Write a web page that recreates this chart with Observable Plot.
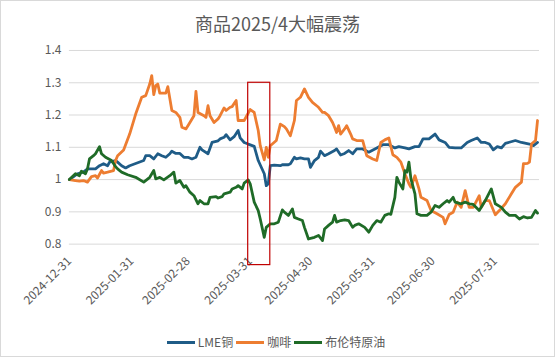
<!DOCTYPE html>
<html><head><meta charset="utf-8">
<script src="https://cdn.jsdelivr.net/npm/d3@7"></script>
<script src="https://cdn.jsdelivr.net/npm/@observablehq/plot@0.6"></script>
<style>
html,body{margin:0;padding:0;background:#fff;}
#chart{position:relative;width:555px;height:357px;box-sizing:border-box;border:1px solid #d9d9d9;background:#fff;overflow:hidden;font-family:"Noto Sans CJK SC","Noto Sans",sans-serif;color:#595959;}
#title{position:absolute;left:0;top:12px;width:553px;text-align:center;font-size:18px;line-height:20px;}
#plot{position:absolute;left:-1px;top:39px;}
#legend{position:absolute;left:0;top:333px;width:553px;display:flex;justify-content:center;align-items:center;font-size:12px;line-height:16px;}
.item{display:flex;align-items:center;margin-right:3px;}
.sw{width:28px;height:3px;margin-right:3px;}
</style></head>
<body>
<div id="chart">
  <div id="title">商品2025/4大幅震荡</div>
  <div id="plot"></div>
  <div id="legend"></div>
</div>
<script>
const seriesNames = ["LME铜", "咖啡", "布伦特原油"];
const seriesColors = ["#1f5c87", "#ed7d31", "#1f6b27"];
const xTickLabels = ["2024-12-31","2025-01-31","2025-02-28","2025-03-31","2025-04-30","2025-05-31","2025-06-30","2025-07-31"];
const yTickValues = [0.8, 0.9, 1, 1.1, 1.2, 1.3, 1.4];
const highlightDates = ["2025-03-30", "2025-04-10"];
const highlightValues = [0.735, 1.3];

const copper = [
["2024-12-31",1.000],["2025-01-04",1.018],["2025-01-07",1.023],["2025-01-09",1.033],["2025-01-13",1.033],["2025-01-15",1.043],["2025-01-17",1.049],["2025-01-19",1.043],["2025-01-20",1.054],["2025-01-23",1.059],["2025-01-24",1.054],["2025-01-26",1.043],["2025-01-28",1.036],["2025-01-30",1.043],["2025-02-06",1.059],["2025-02-07",1.074],["2025-02-09",1.074],["2025-02-11",1.064],["2025-02-13",1.080],["2025-02-15",1.074],["2025-02-17",1.069],["2025-02-19",1.080],["2025-02-20",1.088],["2025-02-22",1.081],["2025-02-24",1.081],["2025-02-26",1.069],["2025-02-28",1.069],["2025-03-02",1.064],["2025-03-04",1.069],["2025-03-06",1.100],["2025-03-07",1.092],["2025-03-10",1.080],["2025-03-12",1.115],["2025-03-15",1.120],["2025-03-16",1.126],["2025-03-18",1.131],["2025-03-19",1.139],["2025-03-21",1.123],["2025-03-23",1.133],["2025-03-25",1.152],["2025-03-26",1.129],["2025-03-28",1.115],["2025-03-30",1.110],["2025-04-02",1.103],["2025-04-04",1.059],["2025-04-07",1.018],["2025-04-08",0.981],["2025-04-09",0.987],["2025-04-10",1.043],["2025-04-12",1.045],["2025-04-15",1.043],["2025-04-16",1.046],["2025-04-19",1.046],["2025-04-20",1.049],["2025-04-22",1.069],["2025-04-23",1.064],["2025-04-25",1.067],["2025-04-27",1.064],["2025-04-29",1.064],["2025-04-30",1.038],["2025-05-02",1.059],["2025-05-04",1.069],["2025-05-05",1.088],["2025-05-07",1.074],["2025-05-09",1.080],["2025-05-12",1.090],["2025-05-13",1.095],["2025-05-15",1.076],["2025-05-17",1.081],["2025-05-19",1.090],["2025-05-21",1.080],["2025-05-23",1.095],["2025-05-26",1.095],["2025-05-29",1.085],["2025-06-02",1.098],["2025-06-05",1.108],["2025-06-08",1.108],["2025-06-11",1.098],["2025-06-13",1.102],["2025-06-16",1.098],["2025-06-18",1.095],["2025-06-21",1.102],["2025-06-23",1.102],["2025-06-25",1.126],["2025-06-28",1.126],["2025-07-01",1.141],["2025-07-03",1.123],["2025-07-06",1.115],["2025-07-08",1.100],["2025-07-11",1.098],["2025-07-14",1.098],["2025-07-17",1.115],["2025-07-19",1.121],["2025-07-22",1.129],["2025-07-24",1.115],["2025-07-26",1.115],["2025-07-28",1.110],["2025-07-30",1.092],["2025-08-01",1.102],["2025-08-03",1.098],["2025-08-05",1.112],["2025-08-10",1.121],["2025-08-13",1.115],["2025-08-17",1.110],["2025-08-19",1.105],["2025-08-21",1.115]
];

const coffee = [
["2024-12-31",1.000],["2025-01-03",0.997],["2025-01-05",0.995],["2025-01-07",0.997],["2025-01-09",0.992],["2025-01-11",1.009],["2025-01-13",1.012],["2025-01-14",1.005],["2025-01-16",1.028],["2025-01-17",1.020],["2025-01-19",1.023],["2025-01-22",1.028],["2025-01-23",1.059],["2025-01-24",1.074],["2025-01-27",1.092],["2025-01-30",1.141],["2025-02-02",1.203],["2025-02-05",1.255],["2025-02-07",1.260],["2025-02-09",1.296],["2025-02-10",1.322],["2025-02-11",1.263],["2025-02-12",1.291],["2025-02-13",1.296],["2025-02-14",1.268],["2025-02-17",1.268],["2025-02-18",1.288],["2025-02-20",1.214],["2025-02-22",1.208],["2025-02-24",1.193],["2025-02-25",1.162],["2025-02-27",1.157],["2025-03-01",1.177],["2025-03-03",1.198],["2025-03-04",1.273],["2025-03-05",1.208],["2025-03-08",1.198],["2025-03-09",1.193],["2025-03-10",1.229],["2025-03-11",1.198],["2025-03-13",1.177],["2025-03-15",1.188],["2025-03-16",1.198],["2025-03-18",1.222],["2025-03-19",1.214],["2025-03-21",1.224],["2025-03-22",1.226],["2025-03-24",1.245],["2025-03-25",1.183],["2025-03-28",1.183],["2025-03-31",1.217],["2025-04-02",1.208],["2025-04-04",1.152],["2025-04-05",1.105],["2025-04-07",1.061],["2025-04-08",1.100],["2025-04-09",1.069],["2025-04-10",1.105],["2025-04-13",1.121],["2025-04-15",1.172],["2025-04-17",1.164],["2025-04-18",1.157],["2025-04-20",1.136],["2025-04-22",1.183],["2025-04-23",1.245],["2025-04-25",1.255],["2025-04-27",1.281],["2025-04-29",1.255],["2025-05-01",1.239],["2025-05-04",1.224],["2025-05-06",1.208],["2025-05-07",1.208],["2025-05-09",1.198],["2025-05-11",1.177],["2025-05-12",1.162],["2025-05-13",1.146],["2025-05-14",1.167],["2025-05-15",1.141],["2025-05-17",1.157],["2025-05-18",1.167],["2025-05-20",1.141],["2025-05-21",1.126],["2025-05-23",1.121],["2025-05-26",1.121],["2025-05-28",1.074],["2025-05-31",1.064],["2025-06-02",1.059],["2025-06-04",1.115],["2025-06-06",1.123],["2025-06-08",1.129],["2025-06-10",1.077],["2025-06-12",1.069],["2025-06-14",1.054],["2025-06-16",1.018],["2025-06-18",0.987],["2025-06-19",0.976],["2025-06-21",1.012],["2025-06-23",0.971],["2025-06-24",0.945],["2025-06-27",0.935],["2025-06-29",0.904],["2025-07-02",0.894],["2025-07-05",0.883],["2025-07-06",0.863],["2025-07-08",0.892],["2025-07-10",0.899],["2025-07-12",0.930],["2025-07-14",0.914],["2025-07-16",0.966],["2025-07-18",0.914],["2025-07-20",0.914],["2025-07-23",0.950],["2025-07-24",0.914],["2025-07-26",0.935],["2025-07-28",0.935],["2025-07-31",0.891],["2025-08-02",0.904],["2025-08-05",0.925],["2025-08-08",0.956],["2025-08-10",0.976],["2025-08-13",0.992],["2025-08-14",1.049],["2025-08-16",1.050],["2025-08-17",1.054],["2025-08-18",1.110],["2025-08-20",1.121],["2025-08-21",1.183]
];

const brent = [
["2024-12-31",1.000],["2025-01-03",1.018],["2025-01-05",1.012],["2025-01-06",1.026],["2025-01-08",1.018],["2025-01-09",1.033],["2025-01-10",1.064],["2025-01-12",1.074],["2025-01-13",1.080],["2025-01-15",1.102],["2025-01-16",1.080],["2025-01-18",1.069],["2025-01-21",1.059],["2025-01-23",1.040],["2025-01-24",1.033],["2025-01-26",1.023],["2025-01-29",1.015],["2025-02-02",1.007],["2025-02-06",0.992],["2025-02-09",1.007],["2025-02-11",1.028],["2025-02-12",1.002],["2025-02-14",1.007],["2025-02-16",0.999],["2025-02-19",1.012],["2025-02-21",1.023],["2025-02-22",0.989],["2025-02-24",0.997],["2025-02-26",0.976],["2025-02-27",0.981],["2025-03-01",0.961],["2025-03-03",0.950],["2025-03-05",0.925],["2025-03-06",0.935],["2025-03-08",0.925],["2025-03-10",0.925],["2025-03-11",0.945],["2025-03-14",0.947],["2025-03-15",0.943],["2025-03-17",0.947],["2025-03-18",0.956],["2025-03-21",0.961],["2025-03-22",0.971],["2025-03-24",0.976],["2025-03-25",0.981],["2025-03-27",0.971],["2025-03-28",0.989],["2025-03-30",0.999],["2025-03-31",0.987],["2025-04-02",0.930],["2025-04-04",0.904],["2025-04-05",0.878],["2025-04-07",0.821],["2025-04-08",0.852],["2025-04-10",0.863],["2025-04-12",0.863],["2025-04-14",0.868],["2025-04-16",0.906],["2025-04-17",0.899],["2025-04-19",0.889],["2025-04-21",0.909],["2025-04-22",0.883],["2025-04-24",0.878],["2025-04-26",0.873],["2025-04-27",0.852],["2025-04-29",0.816],["2025-05-02",0.821],["2025-05-04",0.827],["2025-05-06",0.811],["2025-05-07",0.847],["2025-05-09",0.858],["2025-05-11",0.868],["2025-05-12",0.889],["2025-05-13",0.868],["2025-05-15",0.873],["2025-05-17",0.875],["2025-05-19",0.873],["2025-05-21",0.852],["2025-05-22",0.858],["2025-05-24",0.863],["2025-05-27",0.852],["2025-05-29",0.837],["2025-05-31",0.858],["2025-06-02",0.873],["2025-06-04",0.868],["2025-06-06",0.889],["2025-06-08",0.894],["2025-06-09",0.892],["2025-06-11",0.945],["2025-06-12",1.007],["2025-06-13",0.992],["2025-06-15",0.971],["2025-06-16",1.028],["2025-06-17",1.023],["2025-06-18",1.054],["2025-06-19",1.002],["2025-06-21",0.956],["2025-06-22",0.894],["2025-06-24",0.889],["2025-06-27",0.889],["2025-06-29",0.899],["2025-07-01",0.920],["2025-07-03",0.914],["2025-07-05",0.925],["2025-07-07",0.935],["2025-07-08",0.930],["2025-07-10",0.945],["2025-07-11",0.930],["2025-07-14",0.925],["2025-07-16",0.930],["2025-07-18",0.925],["2025-07-20",0.923],["2025-07-23",0.904],["2025-07-26",0.935],["2025-07-29",0.971],["2025-07-31",0.925],["2025-08-03",0.914],["2025-08-05",0.899],["2025-08-07",0.889],["2025-08-10",0.889],["2025-08-12",0.878],["2025-08-14",0.885],["2025-08-16",0.881],["2025-08-18",0.883],["2025-08-20",0.904],["2025-08-21",0.896]
];

const parse = d3.utcParse("%Y-%m-%d");
const toRows = (arr, name) => arr.map(([d, v]) => ({date: parse(d), value: v, series: name}));
const allSeries = [copper, coffee, brent].map((arr, i) => toRows(arr, seriesNames[i]));
const hl = [{x1: parse(highlightDates[0]), x2: parse(highlightDates[1]), y1: highlightValues[0], y2: highlightValues[1]}];
const fmt = d3.utcFormat("%Y-%m-%d");

const chart = Plot.plot({
  width: 555,
  height: 274,
  marginLeft: 69,
  marginRight: 15,
  marginTop: 10,
  marginBottom: 70,
  style: {fontFamily: '"Noto Sans CJK SC","Noto Sans",sans-serif', fontSize: "12px", color: "#595959", background: "transparent"},
  x: {type: "utc", domain: [parse("2024-12-31"), parse("2025-08-22")]},
  y: {domain: [0.8, 1.4]},
  color: {domain: seriesNames, range: seriesColors},
  marks: [
    Plot.ruleY(yTickValues, {stroke: "#d9d9d9", strokeWidth: 1}),
    Plot.axisY(yTickValues, {tickSize: 0, tickPadding: 8, tickFormat: d => String(d), label: null}),
    Plot.axisX(xTickLabels.map(parse), {tickSize: 0, tickPadding: 15, tickRotate: -45, tickFormat: fmt, label: null}),
    ...allSeries.map((rows, i) => Plot.line(rows, {x: "date", y: "value", stroke: seriesColors[i], strokeWidth: 2.8, strokeLinejoin: "round", strokeLinecap: "round"})),
    Plot.rect(hl, {x1: "x1", x2: "x2", y1: "y1", y2: "y2", fill: "none", stroke: "#c00000", strokeWidth: 1.2})
  ]
});
document.getElementById("plot").appendChild(chart);

const legend = document.getElementById("legend");
seriesNames.forEach((name, i) => {
  const item = document.createElement("div");
  item.className = "item";
  const sw = document.createElement("div");
  sw.className = "sw";
  sw.style.background = seriesColors[i];
  const t = document.createElement("span");
  t.textContent = name;
  item.appendChild(sw);
  item.appendChild(t);
  legend.appendChild(item);
});
</script>
</body></html>
